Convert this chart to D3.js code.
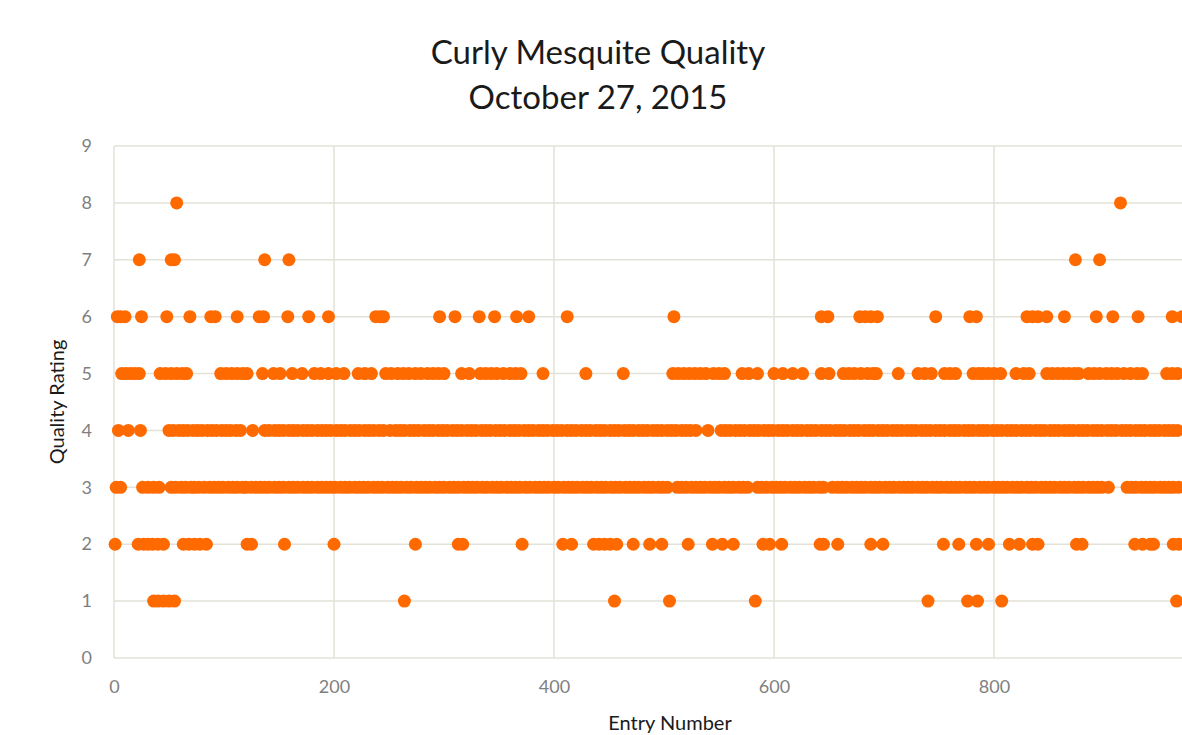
<!DOCTYPE html>
<html>
<head>
<meta charset="utf-8">
<script src="https://cdn.jsdelivr.net/npm/d3@7"></script>
<style>
    body { margin: 0; background: #fff; }
    .chart text { font-family: Lato, 'Open Sans', sans-serif; }
</style>
</head>
<body>
<div class="chart"></div>
<script>
// entry numbers that received each quality rating
let rating1 = [36, 40, 45, 50, 55, 264, 455, 505, 583, 740, 776, 785, 807, 966];
let rating2 = [1, 22, 27, 31, 35, 40, 45, 63, 68, 73, 78, 84, 121, 125, 155, 200, 274, 313, 317,
    371, 408, 416, 436, 441, 446, 451, 457, 472, 487, 498, 522, 544, 553, 563, 590, 596, 607,
    642, 645, 658, 688, 699, 754, 768, 784, 795, 814, 823, 835, 840, 875, 880, 928, 935, 942, 945, 963, 968];
let rating3 = [2, 6, 26, 31, 36, 41, 52, 56, 61, 65, 70, 73, 77, 82, 87, 91, 95, 99, 104, 108, 112, 117,
    120, 125, 129, 133, 137, 141, 146, 150, 154, 159, 163, 167, 172, 176, 180, 185, 189, 193, 197, 201,
    206, 210, 214, 219, 223, 227, 231, 236, 240, 244, 249, 253, 257, 261, 266, 270, 275, 279, 283, 287,
    292, 296, 300, 305, 309, 313, 318, 322, 326, 330, 335, 339, 344, 348, 352, 357, 361, 365, 369, 374,
    378, 383, 387, 391, 395, 400, 404, 409, 413, 417, 421, 426, 430, 434, 439, 443, 447, 452, 456, 460,
    465, 469, 473, 477, 482, 486, 490, 495, 499, 503, 512, 516, 520, 525, 529, 533, 537, 542, 546, 550,
    555, 559, 563, 568, 572, 576, 585, 589, 593, 598, 602, 606, 610, 615, 619, 623, 628, 632, 636, 641,
    645, 653, 658, 662, 666, 671, 675, 679, 683, 688, 692, 696, 701, 705, 709, 714, 718, 722, 726, 731,
    735, 739, 744, 748, 752, 757, 761, 765, 769, 774, 778, 782, 787, 791, 795, 800, 804, 808, 812, 817,
    821, 825, 830, 834, 838, 843, 847, 851, 855, 860, 864, 868, 873, 877, 881, 886, 890, 894, 898, 904,
    921, 925, 929, 934, 938, 942, 946, 951, 955, 959, 963, 968];
let rating4 = [4, 13, 24, 50, 54, 59, 63, 67, 72, 76, 80, 85, 89, 93, 98, 102, 106, 111, 115, 126, 137,
    141, 146, 150, 154, 159, 163, 167, 172, 176, 180, 185, 189, 193, 197, 202, 206, 210, 215, 219, 223,
    228, 232, 236, 241, 245, 251, 256, 260, 264, 269, 273, 277, 282, 286, 290, 295, 299, 303, 308, 312,
    316, 321, 325, 329, 334, 338, 342, 347, 351, 355, 360, 364, 368, 373, 377, 381, 386, 390, 394, 399,
    403, 407, 412, 416, 420, 425, 429, 433, 438, 442, 446, 451, 455, 459, 464, 468, 472, 477, 481, 485,
    490, 494, 498, 503, 507, 511, 516, 520, 524, 529, 540, 552, 556, 560, 565, 569, 573, 578, 582, 586,
    591, 595, 599, 604, 608, 612, 617, 621, 625, 630, 634, 638, 643, 647, 651, 656, 660, 664, 669, 673,
    677, 682, 686, 690, 695, 699, 703, 708, 712, 716, 721, 725, 729, 734, 738, 742, 747, 751, 755, 760,
    764, 768, 773, 777, 781, 786, 790, 794, 799, 803, 807, 812, 816, 820, 825, 829, 833, 838, 842, 846,
    851, 855, 859, 864, 868, 872, 877, 881, 885, 890, 894, 898, 903, 907, 911, 916, 920, 924, 929, 933,
    937, 942, 946, 950, 955, 959, 963, 967];
let rating5 = [7, 11, 15, 19, 23, 42, 47, 52, 57, 62, 66, 97, 102, 107, 112, 117, 121, 135, 145, 151,
    162, 171, 182, 188, 195, 202, 209, 222, 228, 234, 247, 252, 258, 263, 268, 274, 279, 285, 290, 295,
    300, 316, 323, 333, 338, 343, 348, 354, 360, 365, 370, 390, 429, 463, 508, 513, 518, 523, 528, 533,
    538, 545, 550, 555, 571, 577, 585, 600, 608, 617, 626, 643, 650, 663, 668, 673, 679, 685, 690, 693,
    713, 731, 737, 743, 755, 760, 765, 781, 786, 790, 795, 800, 806, 820, 827, 832, 848, 853, 858, 863,
    868, 873, 877, 886, 891, 896, 902, 907, 912, 918, 924, 930, 935, 957, 962, 967];
let rating6 = [3, 6, 10, 25, 48, 69, 88, 92, 112, 132, 136, 158, 177, 195, 238, 242, 245, 296, 310,
    332, 346, 366, 377, 412, 509, 643, 649, 678, 683, 688, 694, 747, 778, 784, 830, 835, 840, 848,
    864, 893, 908, 931, 962, 971];
let rating7 = [23, 52, 55, 137, 159, 874, 896];
let rating8 = [57, 915];

let gridX = [0, 200, 400, 600, 800, 1000];
let xTickLabels = [0, 200, 400, 600, 800];
let yTicks = [0, 1, 2, 3, 4, 5, 6, 7, 8, 9];

let width = 1182, height = 735;
let fontFamily = 'Lato, "Open Sans", sans-serif';
let padding = {'left': 114, 'top': 146, 'bottom': 77};

let data = [];
[rating1, rating2, rating3, rating4, rating5, rating6, rating7, rating8].forEach((list, i) => {
    list.forEach(entry => data.push({'entry': entry, 'rating': i + 1}));
});

let svg = d3.select('.chart')
    .append('svg')
    .attr('width', width)
    .attr('height', height);

let x = d3.scaleLinear()
    .domain([0, 1000])
    .range([padding.left, padding.left + 1100]);
let y = d3.scaleLinear()
    .domain([0, 9])
    .range([height - padding.bottom, padding.top]);

// gridlines
svg.append('g')
    .selectAll('line')
    .data(yTicks)
    .enter().append('line')
    .attr('x1', x(0))
    .attr('x2', x(1000))
    .attr('y1', d => y(d))
    .attr('y2', d => y(d))
    .attr('stroke', '#e2e2d8')
    .attr('stroke-width', 1.5);
svg.append('g')
    .selectAll('line')
    .data(gridX)
    .enter().append('line')
    .attr('x1', d => x(d))
    .attr('x2', d => x(d))
    .attr('y1', y(0))
    .attr('y2', y(9))
    .attr('stroke', '#e2e2d8')
    .attr('stroke-width', 1.5);

// x axis
let axis_x = d3.axisBottom(x).tickValues(xTickLabels).tickSize(0).tickPadding(22).tickFormat(d => d);
svg.append('g')
    .attr('transform', `translate(0, ${y(0)})`)
    .call(axis_x)
    .call(g => g.select('.domain').remove())
    .attr('font-family', fontFamily)
    .attr('font-size', '18px')
    .selectAll('text').attr('fill', '#7f7f7f');

// y axis
let axis_y = d3.axisLeft(y).tickValues(yTicks).tickSize(0).tickPadding(22).tickFormat(d => d);
svg.append('g')
    .attr('transform', `translate(${padding.left}, 0)`)
    .call(axis_y)
    .call(g => g.select('.domain').remove())
    .attr('font-family', fontFamily)
    .attr('font-size', '18px')
    .selectAll('text').attr('fill', '#7f7f7f');

// axis labels
svg.append('text')
    .attr('x', 670)
    .attr('y', 730)
    .attr('text-anchor', 'middle')
    .attr('font-size', '20px')
    .attr('fill', '#1a1a1a')
    .text('Entry Number');
svg.append('text')
    .attr('transform', `translate(64, ${y(4.5)}) rotate(-90)`)
    .attr('text-anchor', 'middle')
    .attr('font-size', '20px')
    .attr('fill', '#1a1a1a')
    .text('Quality Rating');

// title
let title = svg.append('text')
    .attr('text-anchor', 'middle')
    .attr('font-size', '33px')
    .attr('fill', '#1a1a1a');
title.append('tspan').attr('x', 598).attr('y', 64).text('Curly Mesquite Quality');
title.append('tspan').attr('x', 598).attr('y', 109).text('October 27, 2015');

// points
svg.append('g')
    .selectAll('circle')
    .data(data)
    .enter().append('circle')
    .attr('cx', d => x(d.entry))
    .attr('cy', d => y(d.rating))
    .attr('r', 6.5)
    .style('fill', '#ff6a00');
</script>
</body>
</html>
